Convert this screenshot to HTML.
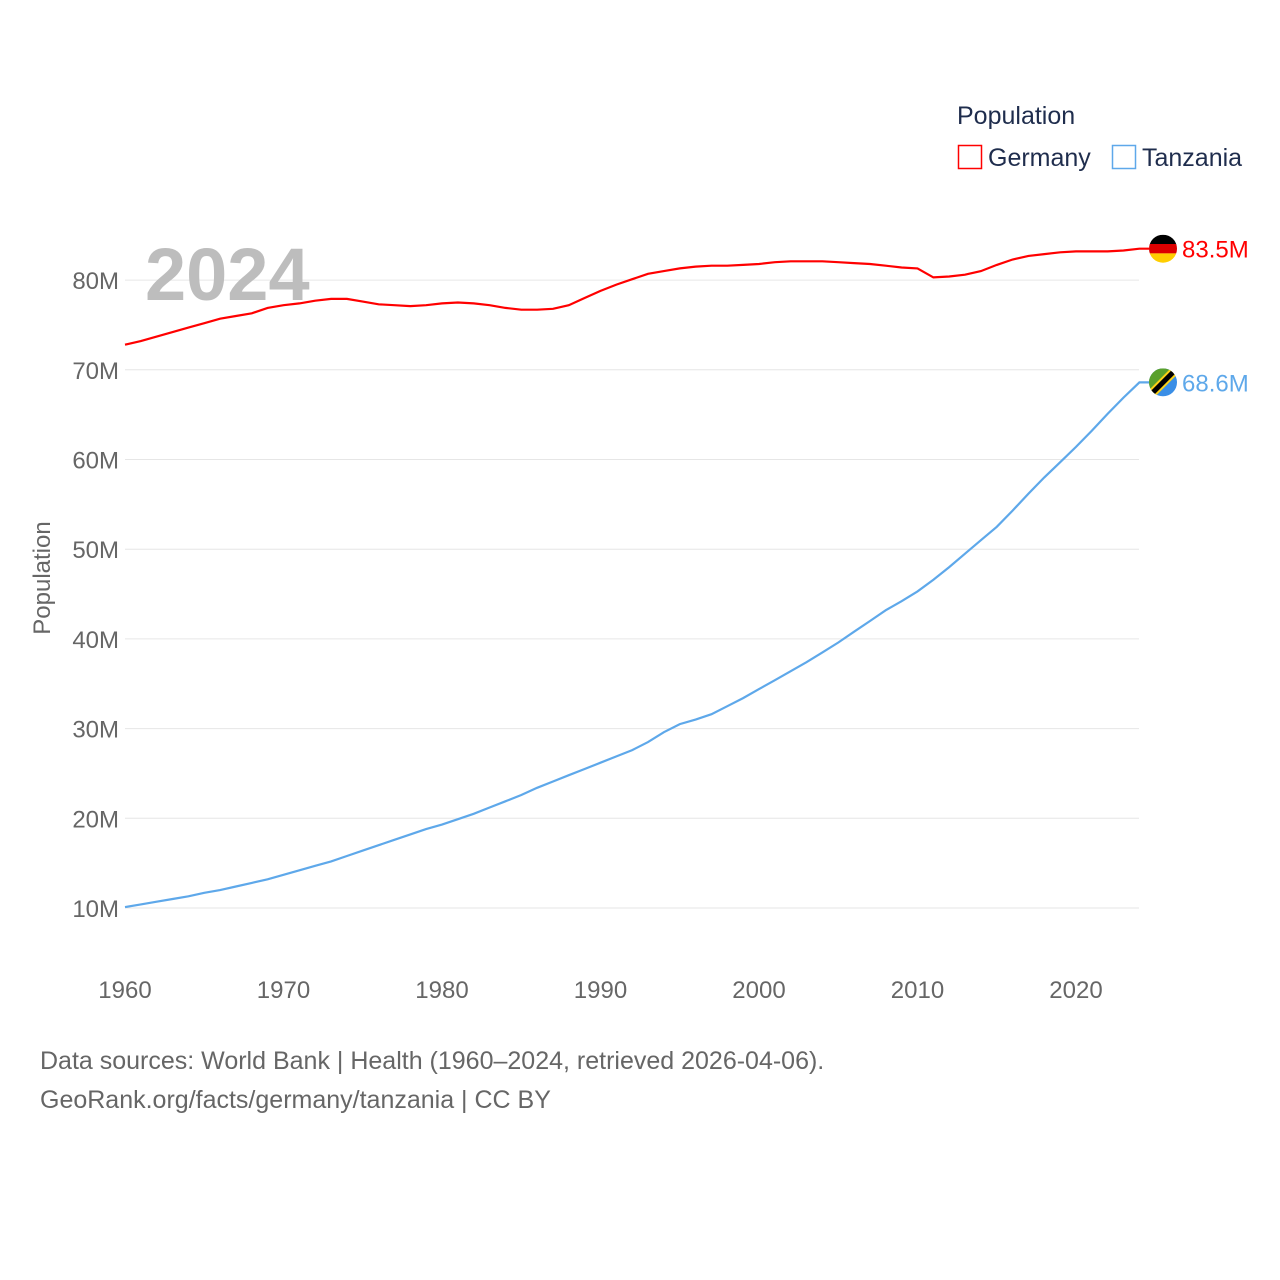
<!DOCTYPE html>
<html><head><meta charset="utf-8"><style>
body{margin:0;background:#fff;}
svg{display:block;font-family:"Liberation Sans",sans-serif;}
</style></head><body>
<svg id="chart" width="1280" height="1280" viewBox="0 0 1280 1280">
<g id="grid"></g>
<g id="yticks"></g>
<g id="xticks"></g>
<text x="145" y="300" font-size="74" font-weight="bold" fill="#bdbdbd">2024</text>
<text transform="translate(50,578) rotate(-90)" text-anchor="middle" font-size="24" fill="#666">Population</text>
<g id="series"></g>
<g>
<text x="957" y="124" font-size="25" fill="#1f2d4d">Population</text>
<g><rect x="958.5" y="145.5" width="23" height="23" fill="none" stroke="#ff0000" stroke-width="1.5"/><text x="988" y="166" font-size="25" fill="#1f2d4d">Germany</text></g>
<g><rect x="1112.5" y="145.5" width="23" height="23" fill="none" stroke="#5ea8ea" stroke-width="1.5"/><text x="1142" y="166" font-size="25" fill="#1f2d4d">Tanzania</text></g>
</g>
<text x="40" y="1069" font-size="25" fill="#666">Data sources: World Bank | Health (1960–2024, retrieved 2026-04-06).</text>
<text x="40" y="1108" font-size="25" fill="#666">GeoRank.org/facts/germany/tanzania | CC BY</text>
</svg>
<script>
const years=[];for(let y=1960;y<=2024;y++)years.push(y);
const germany=[72.8,73.2,73.7,74.2,74.7,75.2,75.7,76.0,76.3,76.9,77.2,77.4,77.7,77.9,77.9,77.6,77.3,77.2,77.1,77.2,77.4,77.5,77.4,77.2,76.9,76.7,76.7,76.8,77.2,78.0,78.8,79.5,80.1,80.7,81.0,81.3,81.5,81.6,81.6,81.7,81.8,82.0,82.1,82.1,82.1,82.0,81.9,81.8,81.6,81.4,81.3,80.3,80.4,80.6,81.0,81.7,82.3,82.7,82.9,83.1,83.2,83.2,83.2,83.3,83.5];
const tanzania=[10.1,10.4,10.7,11.0,11.3,11.7,12.0,12.4,12.8,13.2,13.7,14.2,14.7,15.2,15.8,16.4,17.0,17.6,18.2,18.8,19.3,19.9,20.5,21.2,21.9,22.6,23.4,24.1,24.8,25.5,26.2,26.9,27.6,28.5,29.6,30.5,31.0,31.6,32.5,33.4,34.4,35.4,36.4,37.4,38.5,39.6,40.8,42.0,43.2,44.2,45.3,46.6,48.0,49.5,51.0,52.5,54.3,56.2,58.0,59.7,61.4,63.2,65.1,66.9,68.6];
const yTicks=[10,20,30,40,50,60,70,80];
const xTicks=[1960,1970,1980,1990,2000,2010,2020];
const NS="http://www.w3.org/2000/svg";
const xs=y=>125+(y-1960)*(1076-125)/60;
const ys=v=>997.7-v*8.97;
function mk(t,a,p){const e=document.createElementNS(NS,t);for(const k in a)e.setAttribute(k,a[k]);p.appendChild(e);return e;}
const grid=document.getElementById('grid'),yt=document.getElementById('yticks'),xt=document.getElementById('xticks'),ser=document.getElementById('series');
yTicks.forEach(v=>{
 const l=mk('line',{x1:125,x2:1139,y1:ys(v),y2:ys(v),stroke:'#e6e6e6','stroke-width':1},grid);
 
 
 const t=mk('text',{x:119,y:ys(v)+9,'text-anchor':'end','font-size':24,fill:'#666'},yt);
 t.textContent=v+'M';
 
 
});
xTicks.forEach(v=>{
 const t=mk('text',{x:xs(v),y:998,'text-anchor':'middle','font-size':24,fill:'#666'},xt);
 t.textContent=v;
 
 
});
function line(data,color,name){
 const d=data.map((v,i)=>(i?'L':'M')+xs(years[i]).toFixed(1)+','+ys(v).toFixed(1)).join('');
 const p=mk('path',{d:d+'L1149,'+ys(data[data.length-1]).toFixed(1),fill:'none',stroke:color,'stroke-width':2.2},ser);
 
 
}
line(germany,'#ff0000','germany-line');
line(tanzania,'#5ea8ea','tanzania-line');
const gy=ys(germany[germany.length-1]),ty=ys(tanzania[tanzania.length-1]);
const defs=mk('defs',{},ser);
const c1=mk('clipPath',{id:'cg'},defs);mk('circle',{cx:1163,cy:gy,r:14},c1);
const c2=mk('clipPath',{id:'ct'},defs);mk('circle',{cx:1163,cy:ty,r:14},c2);
const fg=mk('g',{'clip-path':'url(#cg)'},ser);


mk('rect',{x:1149,y:gy-14,width:28,height:10,fill:'#000'},fg);
mk('rect',{x:1149,y:gy-4.7,width:28,height:9.4,fill:'#dd0000'},fg);
mk('rect',{x:1149,y:gy+4.7,width:28,height:10,fill:'#ffce00'},fg);
const ft=mk('g',{'clip-path':'url(#ct)'},ser);


mk('rect',{x:1149,y:ty-14,width:28,height:28,fill:'#3a8ee6'},ft);
mk('polygon',{points:`1149,${ty-14} 1177,${ty-14} 1149,${ty+14}`,fill:'#5aa02c'},ft);
mk('line',{x1:1149,y1:ty+14,x2:1177,y2:ty-14,stroke:'#fcd116','stroke-width':9},ft);
mk('line',{x1:1149,y1:ty+14,x2:1177,y2:ty-14,stroke:'#000','stroke-width':5},ft);
const lg=mk('text',{x:1182,y:gy+9,'font-size':24,fill:'#ff0000'},ser);
lg.textContent=germany[germany.length-1].toFixed(1)+'M';


const lt=mk('text',{x:1182,y:ty+9,'font-size':24,fill:'#5ea8ea'},ser);
lt.textContent=tanzania[tanzania.length-1].toFixed(1)+'M';


</script>
</body></html>
